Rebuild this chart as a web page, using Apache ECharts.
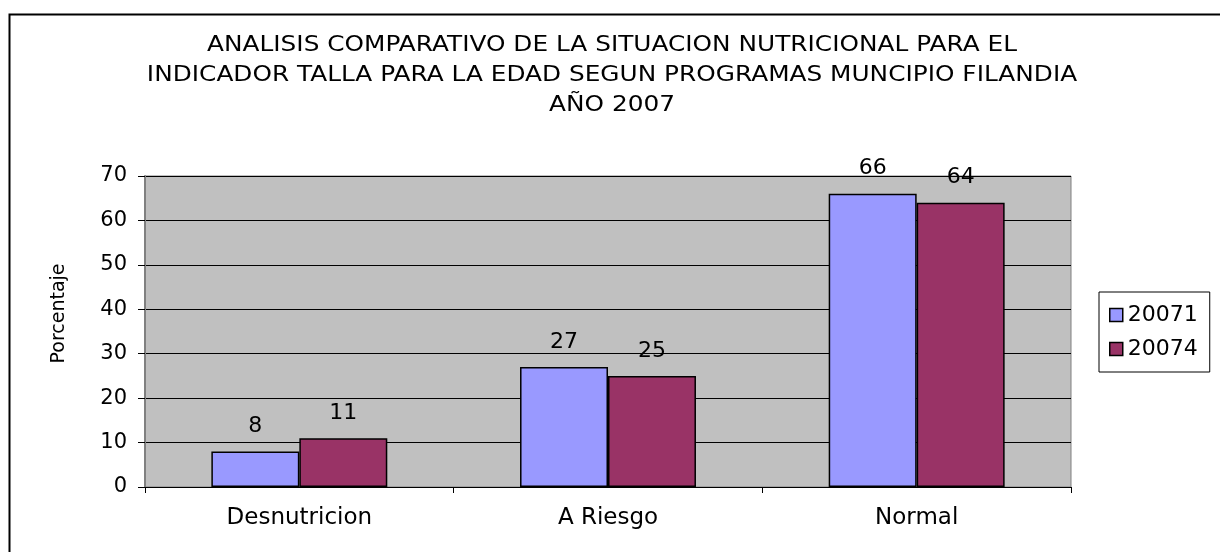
<!DOCTYPE html>
<html>
<head>
<meta charset="utf-8">
<script src="https://cdn.jsdelivr.net/npm/echarts@6/dist/echarts.min.js"></script>
<style>
  html, body { margin: 0; padding: 0; background: #fff; }
  #chart { width: 1220px; height: 552px; }
</style>
</head>
<body>
<div id="chart"></div>
<script>
const categories = ['Desnutricion', 'A Riesgo', 'Normal'];
const seriesNames = ['20071', '20074'];
const values20071 = [8, 27, 66];
const values20074 = [11, 25, 64];
const titleLines = [
  'ANALISIS COMPARATIVO DE LA SITUACION NUTRICIONAL PARA EL',
  'INDICADOR TALLA PARA LA EDAD SEGUN PROGRAMAS MUNCIPIO FILANDIA',
  'AÑO 2007'
];

const font = 'DejaVu Sans';
const chart = echarts.init(document.getElementById('chart'));

function barSeries(name, data, color) {
  return {
    name: name,
    type: 'bar',
    data: data,
    barGap: '0%',
    barCategoryGap: '43%',
    itemStyle: { color: color, borderColor: '#000', borderWidth: 1.5 },
    label: {
      show: true, position: 'top', distance: 14,
      color: '#000', fontFamily: font, fontSize: 22
    }
  };
}

chart.setOption({
  animation: false,
  graphic: [
    {
      type: 'rect', left: 7, top: 12, silent: true,
      shape: { width: 1300, height: 700 },
      style: { fill: 'none', stroke: '#000', lineWidth: 2 }
    },
    {
      // title is drawn a bit wider than normal, as in the original
      type: 'text', x: 612, y: 31, scaleX: 1.18, silent: true,
      style: {
        text: titleLines.join('\n'),
        fontFamily: font, fontSize: 21, lineHeight: 30,
        fill: '#000', align: 'center', verticalAlign: 'top'
      }
    }
  ],
  legend: {
    orient: 'vertical',
    left: 1099, top: 292,
    padding: [12, 12, 12, 10],
    itemGap: 12,
    itemWidth: 13, itemHeight: 13,
    icon: 'rect',
    borderColor: '#000', borderWidth: 1,
    backgroundColor: '#fff',
    textStyle: { fontFamily: font, fontSize: 22, color: '#000' },
    itemStyle: { borderColor: '#000', borderWidth: 1.5 },
    data: seriesNames
  },
  grid: {
    left: 145, right: 149, top: 176, bottom: 65,
    show: true, backgroundColor: '#c0c0c0', borderColor: '#808080', borderWidth: 1
  },
  xAxis: {
    type: 'category',
    data: categories,
    axisLine: { lineStyle: { color: '#000', width: 1 } },
    axisTick: { show: true, length: 6, lineStyle: { color: '#000' } },
    axisLabel: { fontFamily: font, fontSize: 23, color: '#000', margin: 20 }
  },
  yAxis: {
    type: 'value',
    min: 0, max: 70, interval: 10,
    name: 'Porcentaje',
    nameLocation: 'middle',
    nameRotate: 90,
    nameGap: 76,
    nameTextStyle: { fontFamily: font, fontSize: 19, color: '#000', padding: [0, 0, 0, 36] },
    axisLine: { show: true, lineStyle: { color: '#808080', width: 2 } },
    axisTick: { show: true, length: 7, lineStyle: { color: '#000' } },
    axisLabel: { fontFamily: font, fontSize: 21, color: '#000', margin: 18 },
    splitLine: { show: true, lineStyle: { color: '#000', width: 1 } }
  },
  series: [
    barSeries(seriesNames[0], values20071, '#9999ff'),
    barSeries(seriesNames[1], values20074, '#993366')
  ]
});
</script>
</body>
</html>
